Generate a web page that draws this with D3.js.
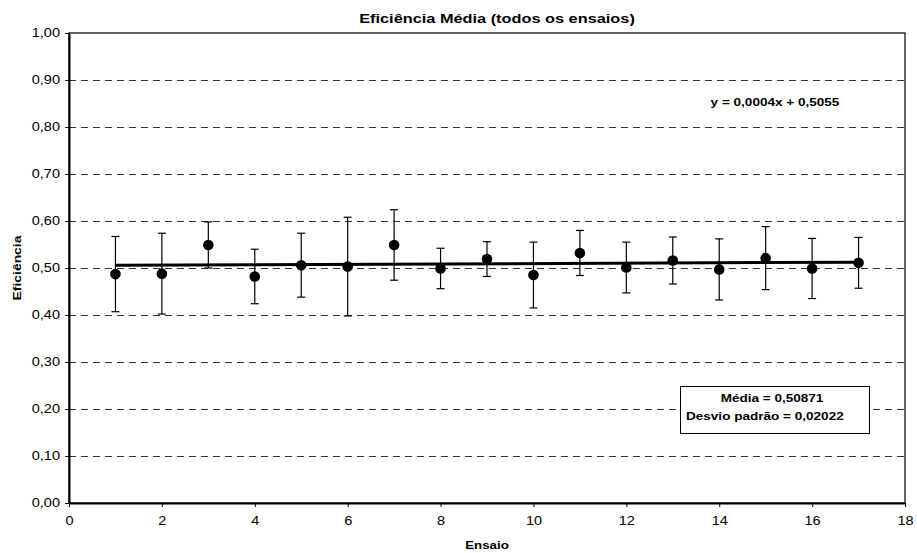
<!DOCTYPE html>
<html>
<head>
    <meta charset="utf-8" />
    <title>Eficiência Média (todos os ensaios)</title>
    <style>
        body { margin: 0; background: #fff; }
        svg { font-family: Arial, "Liberation Sans", sans-serif; }
        .grid line { stroke: #333; stroke-dasharray: 7,5; stroke-width: 1; }
        .axis text { font-size: 12px; fill: #000; }
        .axis path, .axis line { stroke: #000; }
        .errbar { stroke: #000; stroke-width: 1.2; }
        .trend { fill: none; stroke: #000; stroke-width: 3px; }
        .lbl { font-weight: bold; }
    </style>
    <script src="https://cdn.jsdelivr.net/npm/d3@7"></script>
</head>
<body>
<script>
    // data
    const ensaio = [1, 2, 3, 4, 5, 6, 7, 8, 9, 10, 11, 12, 13, 14, 15, 16, 17];
    const eficiencia = [0.487, 0.488, 0.549, 0.482, 0.506, 0.503, 0.549, 0.499, 0.519,
                        0.485, 0.532, 0.501, 0.516, 0.497, 0.521, 0.499, 0.511];
    const erro = [0.080, 0.086, 0.049, 0.058, 0.068, 0.105, 0.075, 0.043, 0.037,
                  0.070, 0.048, 0.054, 0.050, 0.065, 0.067, 0.064, 0.054];
    const xTicks = [0, 2, 4, 6, 8, 10, 12, 14, 16, 18];
    const yTicks = [0, 0.1, 0.2, 0.3, 0.4, 0.5, 0.6, 0.7, 0.8, 0.9, 1.0];
    const trendSlope = 0.0004, trendIntercept = 0.5055;
    const title = 'Eficiência Média (todos os ensaios)';
    const eqText = 'y = 0,0004x + 0,5055';
    const statsText = ['Média = 0,50871', 'Desvio padrão = 0,02022'];

    const margin = { top: 33, right: 12, bottom: 50, left: 69 };
    const width = 917 - margin.left - margin.right,
          height = 553 - margin.top - margin.bottom;
    const sx = 1.21; // text in the source is drawn a bit wide

    const x = d3.scaleLinear().domain([0, 18]).range([0, width]);
    const y = d3.scaleLinear().domain([0, 1]).range([height, 0]);
    const fmt = d => d3.format('.2f')(d).replace('.', ',');

    const svg = d3.select('body').append('svg')
        .attr('width', 917)
        .attr('height', 553);
    const g = svg.append('g')
        .attr('transform', 'translate(' + margin.left + ',' + margin.top + ')');

    // widened text at a point
    function label(px, py, txt, size, anchor, rot) {
        return svg.append('text')
            .attr('class', 'lbl')
            .attr('transform', 'translate(' + px + ',' + py + ')' + (rot ? ' rotate(' + rot + ')' : '') + ' scale(' + sx + ',1)')
            .attr('text-anchor', anchor)
            .style('font-size', size + 'px')
            .text(txt);
    }

    // dashed gridlines
    g.append('g').attr('class', 'grid')
        .selectAll('line')
        .data(yTicks.filter(d => d > 0 && d < 1))
        .enter().append('line')
            .attr('x1', 0).attr('x2', width)
            .attr('y1', d => Math.round(y(d)) + 0.5)
            .attr('y2', d => Math.round(y(d)) + 0.5);

    // frame
    g.append('rect')
        .attr('x', 0).attr('y', 0)
        .attr('width', width).attr('height', height)
        .attr('fill', 'none').attr('stroke', '#000').attr('stroke-width', 1.2);

    // axes
    g.append('g').attr('class', 'axis')
        .attr('transform', 'translate(0,' + height + ')')
        .call(d3.axisBottom(x).tickValues(xTicks).tickSize(4).tickPadding(9).tickSizeOuter(0))
        .call(a => a.select('.domain').attr('stroke-width', 2))
        .call(a => a.selectAll('text').attr('transform', 'scale(' + sx + ',1)'));
    g.append('g').attr('class', 'axis')
        .call(d3.axisLeft(y).tickValues(yTicks).tickFormat(fmt).tickSize(4).tickPadding(5).tickSizeOuter(0))
        .call(a => a.select('.domain').attr('stroke-width', 2))
        .call(a => a.selectAll('text')
            .attr('x', -9 / sx)
            .attr('transform', 'scale(' + sx + ',1)'));

    // error bars
    const eb = g.append('g').selectAll('g')
        .data(ensaio)
        .enter().append('g');
    eb.append('line').attr('class', 'errbar')
        .attr('x1', d => x(d)).attr('x2', d => x(d))
        .attr('y1', (d, i) => y(eficiencia[i] + erro[i]))
        .attr('y2', (d, i) => y(eficiencia[i] - erro[i]));
    eb.append('line').attr('class', 'errbar')
        .attr('x1', d => x(d) - 4).attr('x2', d => x(d) + 4)
        .attr('y1', (d, i) => y(eficiencia[i] + erro[i]))
        .attr('y2', (d, i) => y(eficiencia[i] + erro[i]));
    eb.append('line').attr('class', 'errbar')
        .attr('x1', d => x(d) - 4).attr('x2', d => x(d) + 4)
        .attr('y1', (d, i) => y(eficiencia[i] - erro[i]))
        .attr('y2', (d, i) => y(eficiencia[i] - erro[i]));

    // trend line
    const xr = d3.extent(ensaio);
    g.append('path')
        .datum(xr)
        .attr('class', 'trend')
        .attr('d', d3.line()
            .x(d => x(d))
            .y(d => y(trendSlope * d + trendIntercept)));

    // points
    g.append('g').selectAll('circle')
        .data(ensaio)
        .enter().append('circle')
            .attr('cx', d => x(d))
            .attr('cy', (d, i) => y(eficiencia[i]))
            .attr('r', 5.3)
            .attr('fill', '#000');

    // title and axis labels
    label(497, 23, title, 13.5, 'middle');
    label(margin.left + width / 2, 549, 'Ensaio', 11, 'middle');
    label(21, 268, 'Eficiência', 11.5, 'middle', -90);

    // regression equation
    label(775, 106, eqText, 11.2, 'middle');

    // stats box
    svg.append('rect')
        .attr('x', 680.5).attr('y', 386.5)
        .attr('width', 189).attr('height', 47)
        .attr('fill', '#fff').attr('stroke', '#000').attr('stroke-width', 1);
    label(772, 402, statsText[0], 11.2, 'middle');
    label(686, 420, statsText[1], 11.2, 'start');
</script>
</body>
</html>
